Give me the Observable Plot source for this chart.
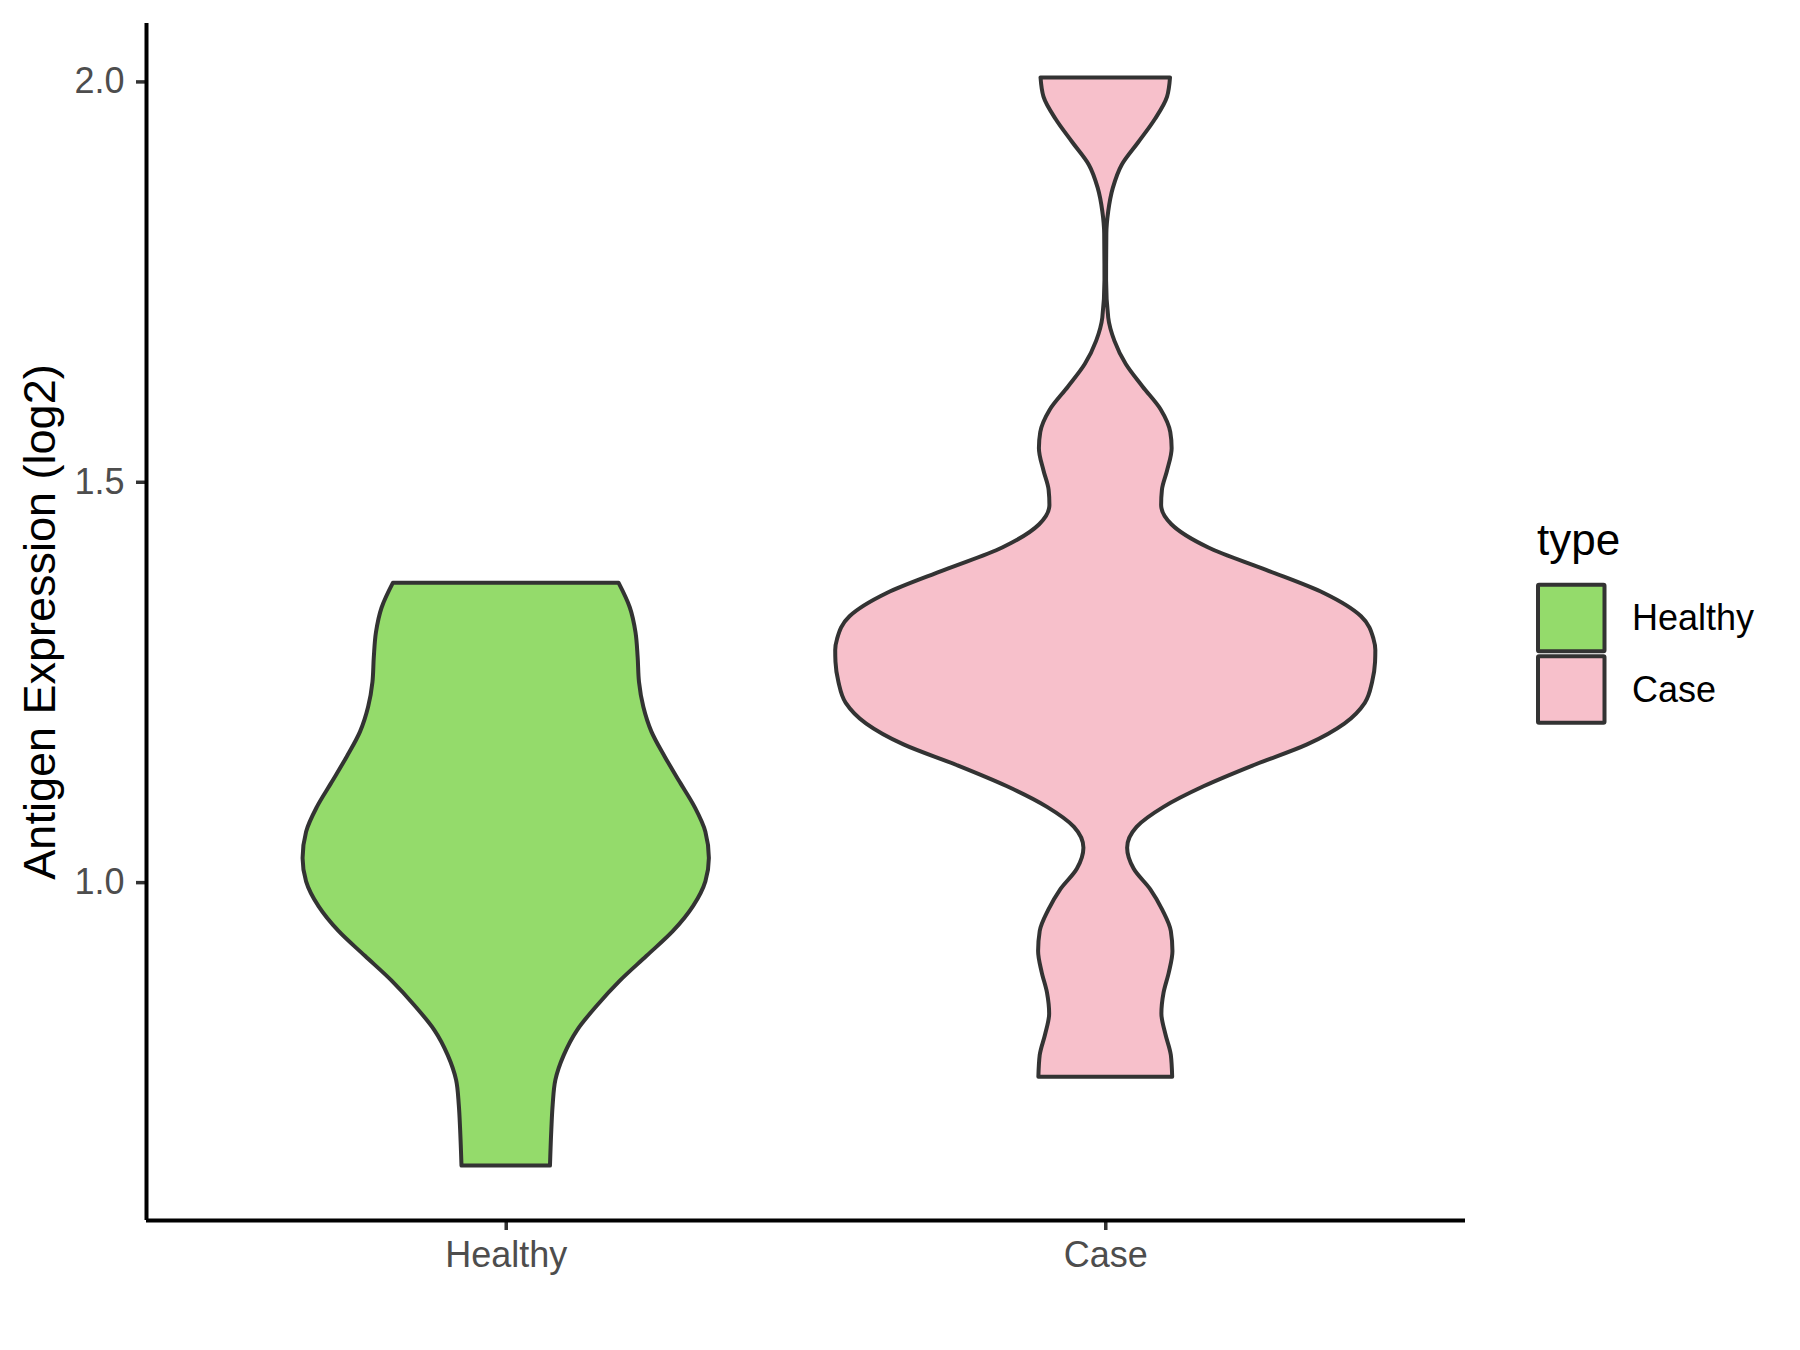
<!DOCTYPE html>
<html>
<head>
<meta charset="utf-8">
<script src="https://cdn.jsdelivr.net/npm/d3@7"></script>
<script src="https://cdn.jsdelivr.net/npm/@observablehq/plot@0.6"></script>
<style>
  body { margin: 0; background: #ffffff; }
  #wrap { position: relative; width: 1800px; height: 1350px; font-family: "Liberation Sans", Arial, Helvetica, sans-serif; }
  #wrap > svg { position: absolute; left: 0; top: 0; }
</style>
</head>
<body>
<div id="wrap"></div>
<script>
// ---- data ----
const categories = ["Healthy", "Case"];
const fillColors = ["#94DB6B", "#F7C0CB"];
const yTicks = [1.0, 1.5, 2.0];
const yLabel = "Antigen Expression (log2)";
const legendTitle = "type";

// violin profiles: value (log2) and relative half-width (density, widest = 1)
const healthyValues = [1.374, 1.343, 1.312, 1.281, 1.250, 1.219, 1.188, 1.157, 1.125, 1.094, 1.063, 1.030, 1.001, 0.970, 0.939, 0.908, 0.877, 0.846, 0.815, 0.784, 0.753, 0.722, 0.691, 0.646];
const healthyWidths = [0.418, 0.460, 0.481, 0.489, 0.494, 0.510, 0.540, 0.589, 0.645, 0.700, 0.740, 0.753, 0.740, 0.694, 0.620, 0.522, 0.423, 0.338, 0.264, 0.215, 0.184, 0.174, 0.169, 0.164];

const caseValues = [2.005, 1.981, 1.953, 1.924, 1.896, 1.867, 1.838, 1.810, 1.752, 1.705, 1.676, 1.647, 1.619, 1.590, 1.562, 1.542, 1.514, 1.490, 1.471, 1.447, 1.418, 1.390, 1.361, 1.332, 1.304, 1.290, 1.275, 1.250, 1.224, 1.198, 1.172, 1.146, 1.120, 1.094, 1.069, 1.043, 1.017, 0.991, 0.965, 0.939, 0.914, 0.888, 0.862, 0.836, 0.810, 0.784, 0.757];
const caseWidths = [0.240, 0.229, 0.184, 0.122, 0.061, 0.028, 0.011, 0.004, 0.003, 0.011, 0.034, 0.076, 0.138, 0.206, 0.241, 0.246, 0.229, 0.210, 0.207, 0.245, 0.382, 0.596, 0.810, 0.948, 0.994, 1.001, 1.000, 0.989, 0.962, 0.886, 0.748, 0.549, 0.366, 0.216, 0.116, 0.081, 0.105, 0.167, 0.212, 0.243, 0.249, 0.236, 0.216, 0.208, 0.223, 0.243, 0.248];

// ---- build ----
const valueSets = [healthyValues, caseValues];
const widthSets = [healthyWidths, caseWidths];
const profiles = valueSets.map((vals, i) =>
  vals.map((v, j) => ({ type: categories[i], pos: i + 1, y: v, w: widthSets[i][j] }))
);
const rows = profiles.flat();
const maxHalf = 0.45; // ggplot violin width 0.9
const yMin = d3.min(rows, d => d.y), yMax = d3.max(rows, d => d.y);
const pad = (yMax - yMin) * 0.05;
const yDomain = [yMin - pad, yMax + pad];
const xDomain = [0.4, categories.length + 0.6];
const font = "'Liberation Sans', Arial, Helvetica, sans-serif";

const plot = Plot.plot({
  width: 1800,
  height: 1350,
  marginLeft: 146,
  marginRight: 335,
  marginTop: 23,
  marginBottom: 130,
  style: { fontFamily: font, background: "transparent", overflow: "visible" },
  x: { domain: xDomain, axis: null },
  y: { domain: yDomain, axis: null },
  marks: [
    ...profiles.map((p, i) => Plot.areaX(p, {
      y: "y",
      x1: d => d.pos - d.w * maxHalf,
      x2: d => d.pos + d.w * maxHalf,
      fill: fillColors[i],
      stroke: "#333333",
      strokeWidth: 4,
      strokeLinejoin: "round",
      curve: "monotone-y"
    })),
    Plot.axisY({
      ticks: yTicks, tickFormat: d3.format(".1f"), tickSize: 10, tickPadding: 12,
      fontSize: 36, fill: "#4D4D4D", stroke: "#333333", strokeWidth: 3.5, label: null
    }),
    Plot.axisX({
      ticks: categories.map((_, i) => i + 1), tickFormat: d => categories[d - 1],
      tickSize: 10, tickPadding: 11, fontSize: 36, fill: "#4D4D4D", stroke: "#333333", strokeWidth: 3.5, label: null
    }),
    Plot.ruleX([xDomain[0]], { stroke: "#000000", strokeWidth: 4 }),
    Plot.ruleY([yDomain[0]], { stroke: "#000000", strokeWidth: 4 }),
    Plot.text([yLabel], { text: d => d, frameAnchor: "left", textAnchor: "middle", dx: -106, rotate: -90, fontSize: 45, fill: "#000000" })
  ]
});

const wrap = document.getElementById("wrap");
wrap.appendChild(plot);

// ---- legend ----
const legend = d3.create("svg")
  .attr("width", 1800).attr("height", 1350)
  .style("pointer-events", "none")
  .style("font-family", font);
legend.append("text")
  .attr("x", 1537).attr("y", 555)
  .attr("font-size", 44).attr("fill", "#000")
  .text(legendTitle);
const keyX = 1538, keyY0 = 584.7, keyStep = 71.6, keySize = 66.5;
categories.forEach((c, i) => {
  legend.append("rect")
    .attr("x", keyX).attr("y", keyY0 + i * keyStep)
    .attr("width", keySize).attr("height", keySize)
    .attr("fill", fillColors[i]).attr("stroke", "#333333").attr("stroke-width", 4)
    .attr("rx", 1);
  legend.append("text")
    .attr("x", 1632).attr("y", keyY0 + i * keyStep + keySize / 2)
    .attr("dominant-baseline", "central")
    .attr("font-size", 36).attr("fill", "#000")
    .text(c);
});
wrap.appendChild(legend.node());
</script>
</body>
</html>
